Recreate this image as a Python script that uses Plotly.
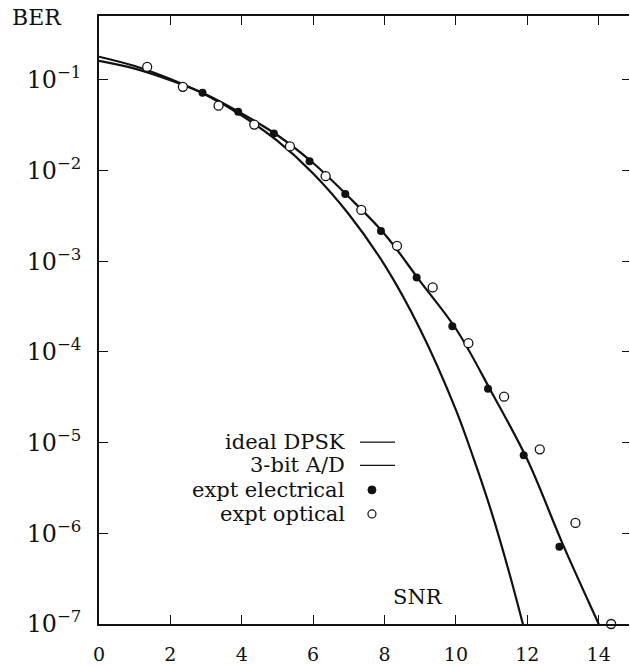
import plotly.graph_objects as go

# ---- data ----
snr_ideal = [0, 1, 2, 3, 4, 5, 6, 7, 8, 9, 10, 10.5, 11, 11.5, 12]
ber_ideal = [0.18, 0.142, 0.102, 0.068, 0.0405, 0.0212, 0.0093, 0.0033,
             9.1e-4, 1.77e-4, 2.3e-5, 6.6e-6, 1.7e-6, 3.6e-7, 6.5e-8]

snr_adc = [0, 1, 2, 3, 4, 5, 6, 7, 8, 9, 10, 11, 12, 13, 14, 14.3]
ber_adc = [0.162, 0.133, 0.099, 0.069, 0.0425, 0.0245, 0.0121, 0.0051,
           0.0020, 6.0e-4, 1.8e-4, 3.6e-5, 6.5e-6, 7.5e-7, 1.0e-7, 5.5e-8]

snr_elec = [2.9, 3.9, 4.9, 5.9, 6.9, 7.9, 8.9, 9.9, 10.9, 11.9, 12.9]
ber_elec = [0.0721, 0.0446, 0.0256, 0.01265, 0.0055, 0.00216, 6.6e-4,
            1.92e-4, 3.93e-5, 7.24e-6, 7.1e-7]

snr_opt = [1.35, 2.35, 3.35, 4.35, 5.35, 6.35, 7.35, 8.35, 9.35, 10.35,
           11.35, 12.35, 13.35, 14.35]
ber_opt = [0.139, 0.0838, 0.0519, 0.0321, 0.01845, 0.00867, 0.00368,
           0.00148, 5.14e-4, 1.25e-4, 3.21e-5, 8.43e-6, 1.30e-6, 1.0e-7]

x_ticks = [0, 2, 4, 6, 8, 10, 12, 14]
legend_labels = ["ideal DPSK", "3-bit A/D", "expt electrical", "expt optical"]

INK = "#111111"
FONT = "DejaVu Serif"
X_RANGE = [0, 14.85]
Y_RANGE = [-7, -0.296]

fig = go.Figure()
fig.add_trace(go.Scatter(x=snr_ideal, y=ber_ideal, mode="lines",
                         line=dict(color=INK, width=2.2, shape="spline"),
                         showlegend=False))
fig.add_trace(go.Scatter(x=snr_adc, y=ber_adc, mode="lines",
                         line=dict(color=INK, width=2.2, shape="spline"),
                         showlegend=False))
fig.add_trace(go.Scatter(x=snr_elec, y=ber_elec, mode="markers",
                         marker=dict(color=INK, size=8, symbol="circle"),
                         showlegend=False, cliponaxis=False))
# optical points on the right-hand twin axis (identical range) so its ticks show
fig.add_trace(go.Scatter(x=snr_opt, y=ber_opt, mode="markers",
                         xaxis="x", yaxis="y2",
                         marker=dict(color="white", size=9, symbol="circle",
                                     line=dict(color=INK, width=1.3)),
                         showlegend=False, cliponaxis=False))

# manual legend (text to the left of the samples)
row_y = [0.299, 0.261, 0.2206, 0.181]
anns = []
for lab, yy in zip(legend_labels, row_y):
    anns.append(dict(text=lab, xref="paper", yref="paper", x=0.468, y=yy,
                     xanchor="right", yanchor="middle", showarrow=False,
                     font=dict(family=FONT, size=21, color=INK)))
anns.append(dict(text="BER", xref="paper", yref="paper", x=-0.117, y=0.998,
                 xanchor="center", yanchor="middle", showarrow=False,
                 font=dict(family=FONT, size=22, color=INK)))
anns.append(dict(text="SNR", xref="paper", yref="paper", x=0.602, y=0.044,
                 xanchor="center", yanchor="middle", showarrow=False,
                 font=dict(family=FONT, size=21, color=INK)))

shapes = []
for yy in row_y[:2]:
    shapes.append(dict(type="line", xref="paper", yref="paper",
                       x0=0.4925, x1=0.5585, y0=yy, y1=yy,
                       line=dict(color=INK, width=1.3)))
shapes.append(dict(type="circle", xref="paper", yref="paper",
                   xsizemode="pixel", ysizemode="pixel",
                   xanchor=0.515, yanchor=row_y[2], x0=-4, x1=4, y0=-4, y1=4,
                   fillcolor=INK, line=dict(color=INK, width=1)))
shapes.append(dict(type="circle", xref="paper", yref="paper",
                   xsizemode="pixel", ysizemode="pixel",
                   xanchor=0.515, yanchor=row_y[3], x0=-4, x1=4, y0=-4, y1=4,
                   fillcolor="white", line=dict(color=INK, width=1.2)))

fig.update_layout(
    width=630, height=666,
    margin=dict(l=99, r=1, t=16, b=38),
    paper_bgcolor="white", plot_bgcolor="white",
    font=dict(family=FONT, size=19, color=INK),
    annotations=anns, shapes=shapes,
    xaxis=dict(range=X_RANGE, tickvals=x_ticks, ticks="inside", ticklen=9,
               tickwidth=1.3, tickcolor=INK, showline=True, linecolor=INK,
               linewidth=1.5, mirror="ticks", showgrid=False, zeroline=False,
               ticklabelstandoff=12, tickfont=dict(family=FONT, size=19)),
    yaxis=dict(type="log", range=Y_RANGE, dtick=1, exponentformat="power",
               ticks="inside", ticklen=9, tickwidth=1.3, tickcolor=INK,
               showline=True, linecolor=INK, linewidth=1.5, showgrid=False,
               zeroline=False, ticklabelstandoff=12,
               tickfont=dict(family=FONT, size=19)),
    yaxis2=dict(type="log", range=Y_RANGE, dtick=1, overlaying="y",
                side="right", ticks="inside", ticklen=7, tickwidth=1.3,
                tickcolor=INK, showticklabels=False, showline=False,
                showgrid=False, zeroline=False),
)

fig.write_html("out.html")
